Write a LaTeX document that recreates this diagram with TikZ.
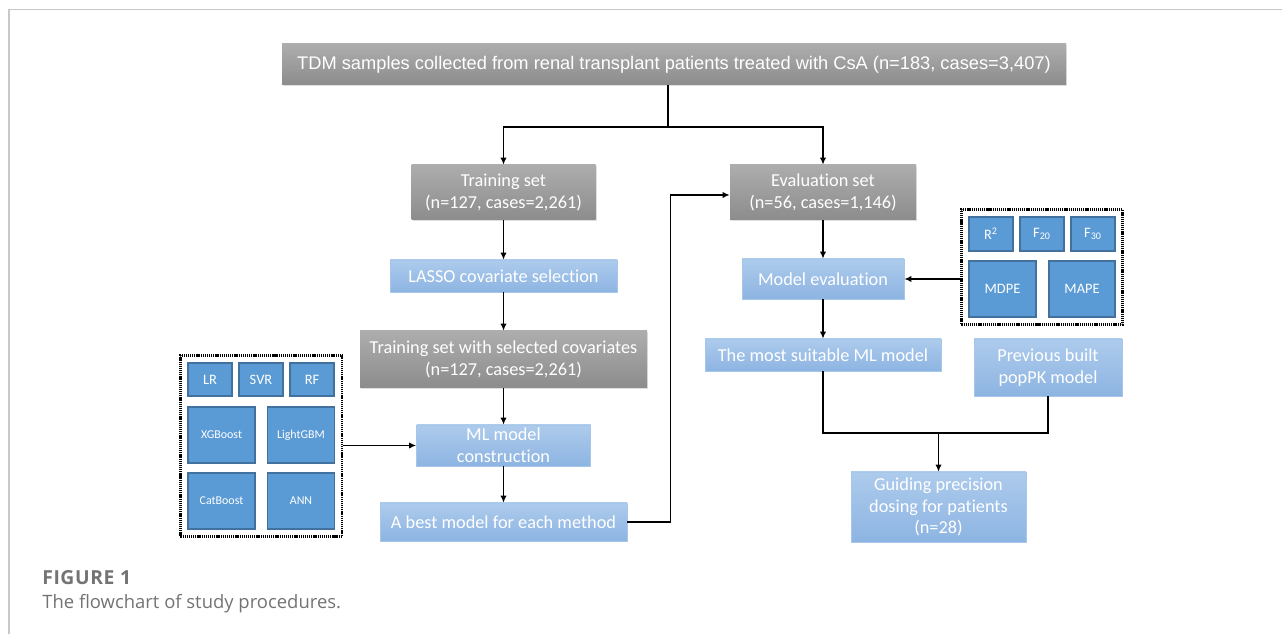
\documentclass[tikz,border=0pt]{standalone}
\usepackage{fontspec}
\setmainfont{Carlito}[Ligatures=NoCommon]
\newfontfamily\arialfont{Liberation Sans}
\newfontfamily\capfont{Open Sans}
\usepackage{tikz}
\usetikzlibrary{arrows.meta,positioning,fit,shadows}
\definecolor{gtop}{HTML}{ADADAD}
\definecolor{gbot}{HTML}{8C8C8C}
\definecolor{ltop}{HTML}{ADCBEC}
\definecolor{lbot}{HTML}{8DB4E2}
\definecolor{ledge}{HTML}{A6C6EA}
\definecolor{mblue}{HTML}{5B9BD5}
\definecolor{mblued}{HTML}{41719C}
\definecolor{framec}{HTML}{C8C8C8}
\definecolor{capc}{HTML}{737373}
\tikzset{
  % size of a box, given in pixels of the reference
  wh/.style 2 args = {minimum width=#1*0.02cm, minimum height=#2*0.02cm},
  gbox/.style  = {rectangle, top color=gtop, bottom color=gbot, draw=none, text=white,
                  inner sep=0pt, align=center, font=\fontsize{10.4}{12.3}\selectfont,
                  drop shadow={opacity=0.25, shadow xshift=0.6pt, shadow yshift=-0.6pt}},
  lbox/.style  = {rectangle, top color=ltop, bottom color=lbot, draw=ledge, line width=0.4pt,
                  text=white, inner sep=0pt, align=center, font=\fontsize{10.4}{12.3}\selectfont},
  mbox/.style  = {rectangle, fill=mblue, draw=mblued, line width=0.6pt, text=white,
                  inner sep=0pt, align=center, font=\fontsize{8.2}{9.6}\selectfont},
  sbox/.style  = {mbox, font=\fontsize{6.8}{8}\selectfont},
  grp/.style   = {rectangle, draw=black, line width=1.3pt, dash pattern=on 0.7pt off 0.5pt,
                  inner sep=0.14cm},
  arr/.style   = {-{Latex[length=4pt,width=3.6pt]}, line width=0.75pt, black},
  wire/.style  = {line width=0.75pt, black},
  capt/.style  = {anchor=base west, inner sep=0pt, text=capc, font=\capfont\fontsize{10.5}{12}\selectfont},
}

\begin{document}
\begin{tikzpicture}[x=0.02cm,y=-0.02cm]
\useasboundingbox (0,0) rectangle (1282,634);
% page frame
\draw[framec, line width=0.85pt] (1282,9.5) -- (9,9.5) -- (9,634);
% data source
\node[gbox, wh={784}{41}, font=\arialfont\fontsize{10.4}{12}\selectfont] (tdm) at (674,64.5)
  {TDM samples collected from renal transplant patients treated with CsA (n=183, cases=3,407)};
% training branch
\node[gbox, wh={184}{55}] (train) at (503.5,192.5) {Training set\\(n=127, cases=2,261)};
\node[lbox, wh={227}{32}] (lasso) at (503.5,276) {LASSO covariate selection};
\node[gbox, wh={287}{57}] (trainsel) at (503.5,359.5) {Training set with selected covariates\\(n=127, cases=2,261)};
\node[lbox, wh={174}{41}] (mlc) at (503.5,445.5) {ML model\\construction};
\node[lbox, wh={247}{38}] (best) at (503.5,522) {A best model for each method};
% methods
\foreach \n/\x/\t in {lr/210/LR, svr/261/SVR, rf/312/RF}
  \node[mbox, wh={44}{33}] (\n) at (\x,379.5) {\t};
\foreach \n/\x/\y/\t in {xgb/221.5/435/XGBoost, lgbm/301/435/LightGBM, cat/221.5/501/CatBoost, ann/301/501/ANN}
  \node[sbox, wh={67}{56}] (\n) at (\x,\y) {\t};
\node[grp, fit=(lr)(rf)(cat)(ann)] (methods) {};
% evaluation branch
\node[gbox, wh={186}{55}] (evalset) at (823,192.5) {Evaluation set\\(n=56, cases=1,146)};
\node[lbox, wh={162}{40}] (modeleval) at (823,279) {Model evaluation};
\node[lbox, wh={236}{32}] (suitable) at (823,355) {The most suitable ML model};
\node[lbox, wh={148}{57}] (prev) at (1048,367.5) {Previous built\\popPK model};
\node[lbox, wh={175}{70}] (guiding) at (938.5,507) {Guiding precision\\dosing for patients\\(n=28)};
% metrics
\foreach \n/\x/\t in {rsq/991/R\textsuperscript{2}, ftw/1042/F\textsubscript{20}, fth/1093/F\textsubscript{30}}
  \node[mbox, wh={44}{34}] (\n) at (\x,234) {\t};
\node[mbox, wh={67}{56}] (mdpe) at (1002.5,289) {MDPE};
\node[mbox, wh={66}{56}] (mape) at (1082,289) {MAPE};
\node[grp, fit=(rsq)(fth)(mdpe)(mape)] (metrics) {};
% connectors
\coordinate (split) at (668,127);
\draw[wire] (split |- tdm.south) -- (split);
\draw[arr] (split) -| (train.north);
\draw[arr] (split) -| (evalset.north);
\draw[arr] (train) -- (lasso);
\draw[arr] (lasso) -- (trainsel);
\draw[arr] (trainsel) -- (mlc);
\draw[arr] (mlc) -- (best);
\draw[arr] (methods.east |- mlc.west) -- (mlc.west);
\draw[arr] (best.east) -- ++(43,0) |- ([yshift=-2.5*0.02cm]evalset.west);
\draw[arr] (evalset) -- (modeleval);
\draw[arr] (metrics.west |- modeleval.east) -- (modeleval.east);
\draw[arr] (modeleval) -- (suitable);
\coordinate (join) at (938.5,433);
\draw[wire] (suitable.south) |- (join) -| (prev.south);
\draw[arr] (join) -- (guiding.north);
% caption
\node[capt, font=\capfont\bfseries\fontsize{11}{12}\selectfont\addfontfeature{LetterSpace=3}] (figno) at (42,585) {FIGURE 1};
\node[capt] (figtext) at (42,609) {The flowchart of study procedures.};
\end{tikzpicture}
\end{document}
